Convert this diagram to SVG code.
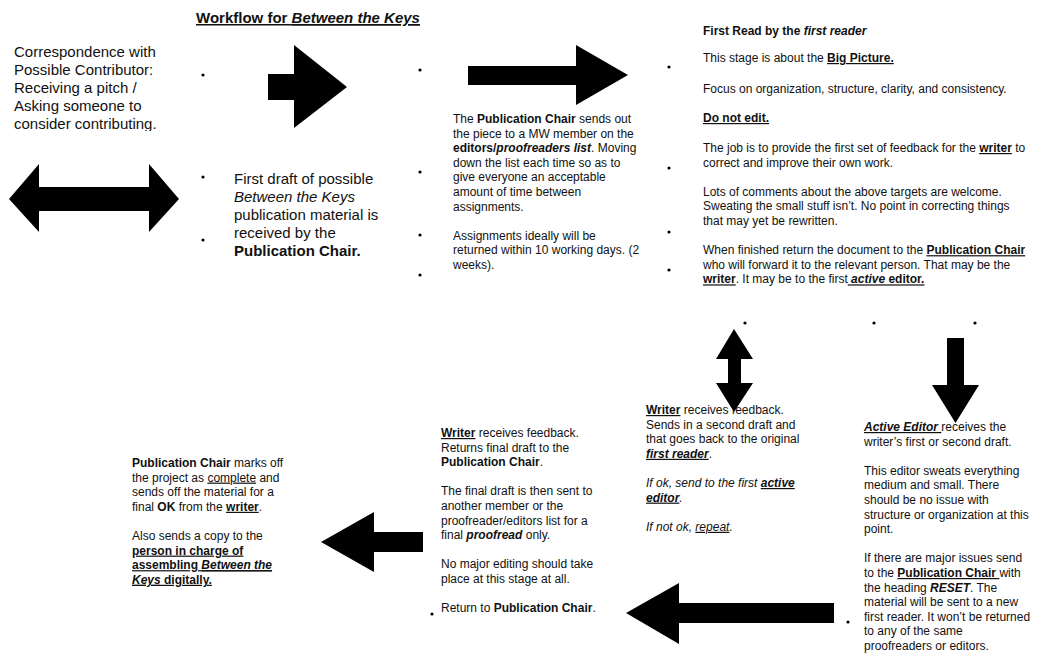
<svg xmlns="http://www.w3.org/2000/svg" width="1040" height="658" viewBox="0 0 1040 658">
<style>
text { font-family: "Liberation Sans", Arial, Helvetica, sans-serif; font-size: 12px; fill: #111; }
.big { font-size: 15px; }
.b { font-weight: bold; }
.i { font-style: italic; }
.u { text-decoration: underline; }
.arrow { fill: #000; stroke: none; }
.dot { fill: #000; }
</style>
<defs>
<clipPath id="clipCorr"><rect x="0" y="35" width="200" height="96"/></clipPath>
</defs>
<rect x="0" y="0" width="1040" height="658" fill="#fff"/>

<g id="title">
<text x="196" y="23" class="big b u">Workflow for <tspan class="i u">Between the Keys</tspan></text>
</g>

<g id="correspondence" clip-path="url(#clipCorr)">
<text class="big">
<tspan x="14" y="57">Correspondence with</tspan>
<tspan x="14" y="75">Possible Contributor:</tspan>
<tspan x="14" y="93">Receiving a pitch /</tspan>
<tspan x="14" y="111">Asking someone to</tspan>
<tspan x="14" y="129">consider contributing.</tspan>
</text>
</g>

<g id="first-draft">
<text class="big">
<tspan x="234" y="184">First draft of possible</tspan>
<tspan x="234" y="202" class="i">Between the Keys</tspan>
<tspan x="234" y="220">publication material is</tspan>
<tspan x="234" y="238">received by the</tspan>
<tspan x="234" y="256" class="b">Publication Chair.</tspan>
</text>
</g>

<g id="publication-chair-sends">
<text>
<tspan x="453" y="123">The <tspan class="b">Publication Chair</tspan> sends out</tspan>
<tspan x="453" y="137.6">the piece to a MW member on the</tspan>
<tspan x="453" y="152.2"><tspan class="b">editors/</tspan><tspan class="b i">proofreaders list</tspan>. Moving</tspan>
<tspan x="453" y="166.8">down the list each time so as to</tspan>
<tspan x="453" y="181.4">give everyone an acceptable</tspan>
<tspan x="453" y="196">amount of time between</tspan>
<tspan x="453" y="210.6">assignments.</tspan>
<tspan x="453" y="239.8">Assignments ideally will be</tspan>
<tspan x="453" y="254.4">returned within 10 working days. (2</tspan>
<tspan x="453" y="269">weeks).</tspan>
</text>
</g>

<g id="first-read">
<text>
<tspan x="703" y="35" class="b">First Read by the <tspan class="i">first reader</tspan></tspan>
<tspan x="703" y="62">This stage is about the <tspan class="b u">Big Picture.</tspan></tspan>
<tspan x="703" y="93">Focus on organization, structure, clarity, and consistency.</tspan>
<tspan x="703" y="122" class="b u">Do not edit.</tspan>
<tspan x="703" y="152">The job is to provide the first set of feedback for the <tspan class="b u">writer</tspan> to</tspan>
<tspan x="703" y="166.6">correct and improve their own work.</tspan>
<tspan x="703" y="195.8">Lots of comments about the above targets are welcome.</tspan>
<tspan x="703" y="210.4">Sweating the small stuff isn’t. No point in correcting things</tspan>
<tspan x="703" y="225">that may yet be rewritten.</tspan>
<tspan x="703" y="254.2">When finished return the document to the <tspan class="b u">Publication Chair</tspan></tspan>
<tspan x="703" y="268.8">who will forward it to the relevant person. That may be the</tspan>
<tspan x="703" y="283.4"><tspan class="b u">writer</tspan>. It may be to the first<tspan class="u"> </tspan><tspan class="b i u">active</tspan><tspan class="b u"> editor.</tspan></tspan>
</text>
</g>

<g id="writer-second-draft">
<text>
<tspan x="646" y="414"><tspan class="b u">Writer</tspan> receives feedback.</tspan>
<tspan x="646" y="428.6">Sends in a second draft and</tspan>
<tspan x="646" y="443.2">that goes back to the original</tspan>
<tspan x="646" y="457.8"><tspan class="b i u">first reader</tspan>.</tspan>
<tspan x="646" y="487" class="i">If ok, send to the first <tspan class="b u">active</tspan></tspan>
<tspan x="646" y="501.6" class="i"><tspan class="b u">editor</tspan>.</tspan>
<tspan x="646" y="530.8" class="i">If not ok, <tspan class="u">repeat</tspan>.</tspan>
</text>
</g>

<g id="active-editor">
<text>
<tspan x="864" y="431"><tspan class="b i u">Active Editor </tspan>receives the</tspan>
<tspan x="864" y="445.6">writer’s first or second draft.</tspan>
<tspan x="864" y="474.8">This editor sweats everything</tspan>
<tspan x="864" y="489.4">medium and small. There</tspan>
<tspan x="864" y="504">should be no issue with</tspan>
<tspan x="864" y="518.6">structure or organization at this</tspan>
<tspan x="864" y="533.2">point.</tspan>
<tspan x="864" y="562.4">If there are major issues send</tspan>
<tspan x="864" y="577">to the <tspan class="b u">Publication Chair </tspan>with</tspan>
<tspan x="864" y="591.6">the heading <tspan class="b i">RESET</tspan>. The</tspan>
<tspan x="864" y="606.2">material will be sent to a new</tspan>
<tspan x="864" y="620.8">first reader. It won’t be returned</tspan>
<tspan x="864" y="635.4">to any of the same</tspan>
<tspan x="864" y="650">proofreaders or editors.</tspan>
</text>
</g>

<g id="writer-final">
<text>
<tspan x="441" y="437"><tspan class="b u">Writer</tspan> receives feedback.</tspan>
<tspan x="441" y="451.6">Returns final draft to the</tspan>
<tspan x="441" y="466.2"><tspan class="b">Publication Chair</tspan>.</tspan>
<tspan x="441" y="495.4">The final draft is then sent to</tspan>
<tspan x="441" y="510">another member or the</tspan>
<tspan x="441" y="524.6">proofreader/editors list for a</tspan>
<tspan x="441" y="539.2">final <tspan class="b i">proofread</tspan> only.</tspan>
<tspan x="441" y="568.4">No major editing should take</tspan>
<tspan x="441" y="583">place at this stage at all.</tspan>
<tspan x="441" y="612.2">Return to <tspan class="b">Publication Chair</tspan>.</tspan>
</text>
</g>

<g id="publication-complete">
<text>
<tspan x="132" y="467"><tspan class="b">Publication Chair</tspan> marks off</tspan>
<tspan x="132" y="481.6">the project as <tspan class="u">complete</tspan> and</tspan>
<tspan x="132" y="496.2">sends off the material for a</tspan>
<tspan x="132" y="510.8">final <tspan class="b">OK</tspan> from the <tspan class="b u">writer</tspan>.</tspan>
<tspan x="132" y="540">Also sends a copy to the</tspan>
<tspan x="132" y="554.6" class="b u">person in charge of</tspan>
<tspan x="132" y="569.2" class="b u">assembling <tspan class="i u">Between the</tspan></tspan>
<tspan x="132" y="583.8" class="b u"><tspan class="i u">Keys</tspan> digitally.</tspan>
</text>
</g>

<g id="bullets">
<circle class="dot" cx="203" cy="75" r="1.6"/>
<circle class="dot" cx="203" cy="177" r="1.6"/>
<circle class="dot" cx="203" cy="240" r="1.6"/>
<circle class="dot" cx="420" cy="70" r="1.6"/>
<circle class="dot" cx="420" cy="172" r="1.6"/>
<circle class="dot" cx="420" cy="235" r="1.6"/>
<circle class="dot" cx="420" cy="275" r="1.6"/>
<circle class="dot" cx="669" cy="67" r="1.6"/>
<circle class="dot" cx="669" cy="168" r="1.6"/>
<circle class="dot" cx="669" cy="232" r="1.6"/>
<circle class="dot" cx="669" cy="270" r="1.6"/>
<circle class="dot" cx="745" cy="323" r="1.6"/>
<circle class="dot" cx="874" cy="323" r="1.6"/>
<circle class="dot" cx="975" cy="323" r="1.6"/>
<circle class="dot" cx="432" cy="614" r="1.6"/>
<circle class="dot" cx="848" cy="622" r="1.6"/>
</g>

<g id="connectors">
<path class="arrow" d="M268,74 L294,74 L294,45 L347,87 L294,128 L294,100 L268,100 Z"/>
<path class="arrow" d="M9,199 L39,164 L39,187 L149,187 L149,164 L179,199 L149,232 L149,211 L39,211 L39,232 Z"/>
<path class="arrow" d="M468,66 L576,66 L576,45 L628,75 L576,105 L576,85 L468,85 Z"/>
<path class="arrow" d="M734,329 L753,359 L741,359 L741,383 L753,383 L734,412 L716,383 L728,383 L728,359 L716,359 Z"/>
<path class="arrow" d="M947,338 L964,338 L964,385 L979,385 L955.5,423 L932,385 L947,385 Z"/>
<path class="arrow" d="M321,542 L374,512 L374,532 L423,532 L423,552 L374,552 L374,572 Z"/>
<path class="arrow" d="M626,613 L679,583 L679,603 L834,603 L834,623 L679,623 L679,644 Z"/>
</g>
</svg>
